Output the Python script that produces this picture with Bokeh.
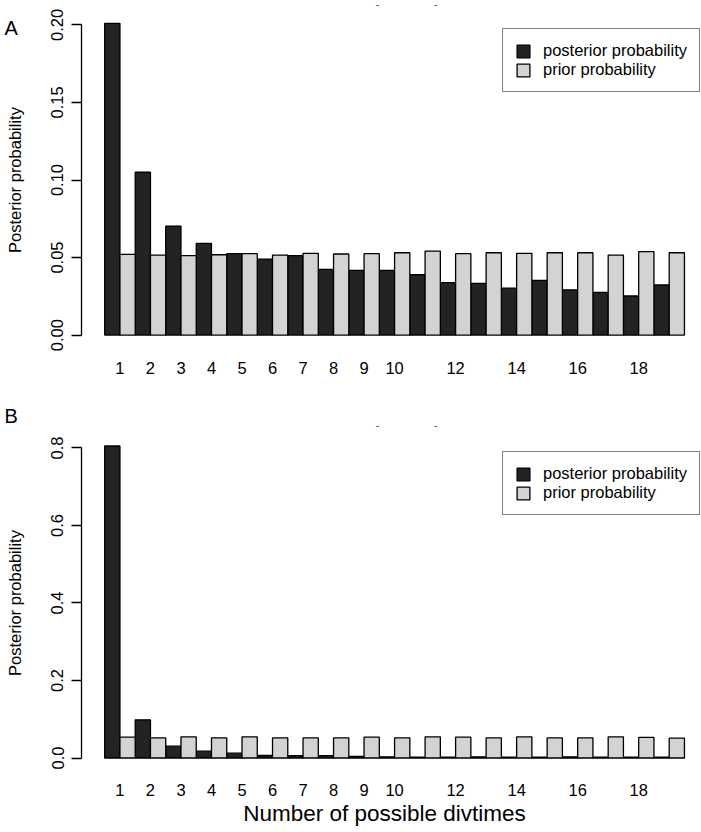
from bokeh.plotting import figure
from bokeh.models import Range1d, FixedTicker, Label, Legend, LegendItem, ColumnDataSource
from bokeh.layouts import column
from bokeh.embed import file_html
from bokeh.resources import INLINE

groups = list(range(1, 20))
post_A = [0.201, 0.105, 0.0703, 0.0591, 0.0525, 0.049, 0.0512, 0.0424, 0.0417, 0.0417,
          0.0389, 0.0338, 0.0333, 0.0303, 0.0353, 0.0292, 0.0275, 0.0252, 0.0323]
prior_A = [0.052, 0.0516, 0.0512, 0.0518, 0.0525, 0.0516, 0.0527, 0.0523, 0.0525, 0.0531,
           0.0542, 0.0525, 0.0531, 0.0527, 0.0531, 0.0531, 0.0516, 0.0538, 0.0531]
post_B = [0.805, 0.0985, 0.0305, 0.0176, 0.0125, 0.0065, 0.006, 0.006, 0.004, 0.003,
          0.002, 0.002, 0.003, 0.002, 0.002, 0.003, 0.002, 0.002, 0.002]
prior_B = [0.0537, 0.052, 0.0546, 0.052, 0.0546, 0.052, 0.052, 0.052, 0.0537, 0.052,
           0.0546, 0.0538, 0.052, 0.0546, 0.052, 0.052, 0.0546, 0.053, 0.0512]
tick_groups = [1, 2, 3, 4, 5, 6, 7, 8, 9, 10, 12, 14, 16, 18]
yticks_A = [0.0, 0.05, 0.10, 0.15, 0.20]
yticks_B = [0.0, 0.2, 0.4, 0.6, 0.8]
legend_labels = ["posterior probability", "prior probability"]
y_title = "Posterior probability"
x_title = "Number of possible divtimes"

FONT = "Liberation Sans"
DARK = "#232323"
LIGHT = "#d3d3d3"
W = 701
PX_PER_BAR = 15.257     # horizontal scale (px per bar)
AXIS_PX = 81            # page x of the y axis
X0 = -1.52              # data x at the y axis (R's 4% padding)


def px_to_x(px):
    return X0 + (px - AXIS_PX) / PX_PER_BAR


def make_panel(post, prior, yticks, fmt, height, zero_px, px_per_unit, pad,
               letter, letter_px, dash_py, legend_px, show_xtitle):
    # frame covers the whole canvas; axes are pinned with fixed_location
    def py_to_y(py):
        return (zero_px - py) / px_per_unit

    x_dark = [2 * (g - 1) + 0.5 for g in groups]
    x_light = [2 * (g - 1) + 1.5 for g in groups]
    p = figure(width=W, height=height, output_backend="svg", toolbar_location=None,
               x_range=Range1d(px_to_x(0), px_to_x(W)),
               y_range=Range1d(py_to_y(height), py_to_y(0)),
               min_border=0, min_border_left=0, min_border_right=0,
               min_border_top=0, min_border_bottom=0)
    p.outline_line_color = None
    p.grid.visible = False
    src_d = ColumnDataSource(dict(x=x_dark, top=post))
    src_l = ColumnDataSource(dict(x=x_light, top=prior))
    r1 = p.vbar(x="x", top="top", bottom=0, width=1, source=src_d, fill_color=DARK,
                line_color="black", line_width=1.3)
    r2 = p.vbar(x="x", top="top", bottom=0, width=1, source=src_l, fill_color=LIGHT,
                line_color="black", line_width=1.3)

    ya = p.yaxis[0]
    ya.fixed_location = X0
    ya.ticker = FixedTicker(ticks=yticks)
    ya.major_label_overrides = {t: fmt.format(t) for t in yticks}
    ya.bounds = (yticks[0], yticks[-1])
    ya.major_label_orientation = "vertical"
    ya.major_tick_out = 10
    ya.major_tick_in = 0
    ya.minor_tick_line_color = None
    ya.axis_line_width = 1.3
    ya.major_tick_line_width = 1.3
    ya.axis_line_color = "black"
    ya.major_tick_line_color = "black"
    ya.major_label_text_font = FONT
    ya.major_label_text_font_size = "16.5px"
    ya.major_label_text_color = "black"
    ya.major_label_standoff = 8
    ya.axis_label = y_title
    ya.axis_label_text_font = FONT
    ya.axis_label_text_font_size = "16.5px"
    ya.axis_label_text_font_style = "normal"
    ya.axis_label_text_color = "black"
    ya.axis_label_standoff = 25

    xa = p.xaxis[0]
    xa.fixed_location = -pad
    xt = [2 * g - 1 for g in tick_groups]
    xa.ticker = FixedTicker(ticks=xt)
    xa.major_label_overrides = {2 * g - 1: str(g) for g in tick_groups}
    xa.axis_line_color = None
    xa.major_tick_line_color = None
    xa.minor_tick_line_color = None
    xa.major_tick_out = 0
    xa.major_tick_in = 0
    xa.major_label_standoff = 14
    xa.major_label_text_font = FONT
    xa.major_label_text_font_size = "16.5px"
    xa.major_label_text_color = "black"
    xa.bounds = (0, 36.7)
    if show_xtitle:
        xa.axis_label = x_title
        xa.axis_label_text_font = FONT
        xa.axis_label_text_font_size = "22.5px"
        xa.axis_label_text_font_style = "normal"
        xa.axis_label_text_color = "black"
        xa.axis_label_standoff = 1

    legend = Legend(items=[LegendItem(label=legend_labels[0], renderers=[r1]),
                           LegendItem(label=legend_labels[1], renderers=[r2])],
                    location=(legend_px[0], height - legend_px[1]), margin=0, padding=12,
                    spacing=0, glyph_width=16, glyph_height=16, label_standoff=12,
                    label_height=18, label_text_font=FONT, label_text_font_size="16.5px",
                    label_text_color="black", border_line_color="black",
                    border_line_width=1.5, background_fill_color="white",
                    background_fill_alpha=1)
    p.add_layout(legend)

    p.add_layout(Label(x=px_to_x(letter_px[0]), y=py_to_y(letter_px[1]), text=letter,
                       text_font=FONT, text_font_size="20px", text_color="black",
                       text_baseline="alphabetic"))
    for dpx in (377, 435):
        p.add_layout(Label(x=px_to_x(dpx), y=py_to_y(dash_py), text="-",
                           text_font=FONT, text_font_size="9px", text_color="black",
                           text_align="center", text_baseline="middle"))
    return p


# panel A: canvas y 0..390 ; panel B: canvas y 390..832 (coordinates local to each panel)
pA = make_panel(post_A, prior_A, yticks_A, "{:.2f}", 390, 334.6, 1550.9, 0.008,
                "A", (4, 27), 4, (502, 92), False)
pB = make_panel(post_B, prior_B, yticks_B, "{:.1f}", 442, 367.5, 387.6, 0.0322,
                "B", (4, 25), 35, (502, 125), True)

layout = column(pA, pB, spacing=0)
open("out.html", "w").write(file_html(layout, INLINE))
